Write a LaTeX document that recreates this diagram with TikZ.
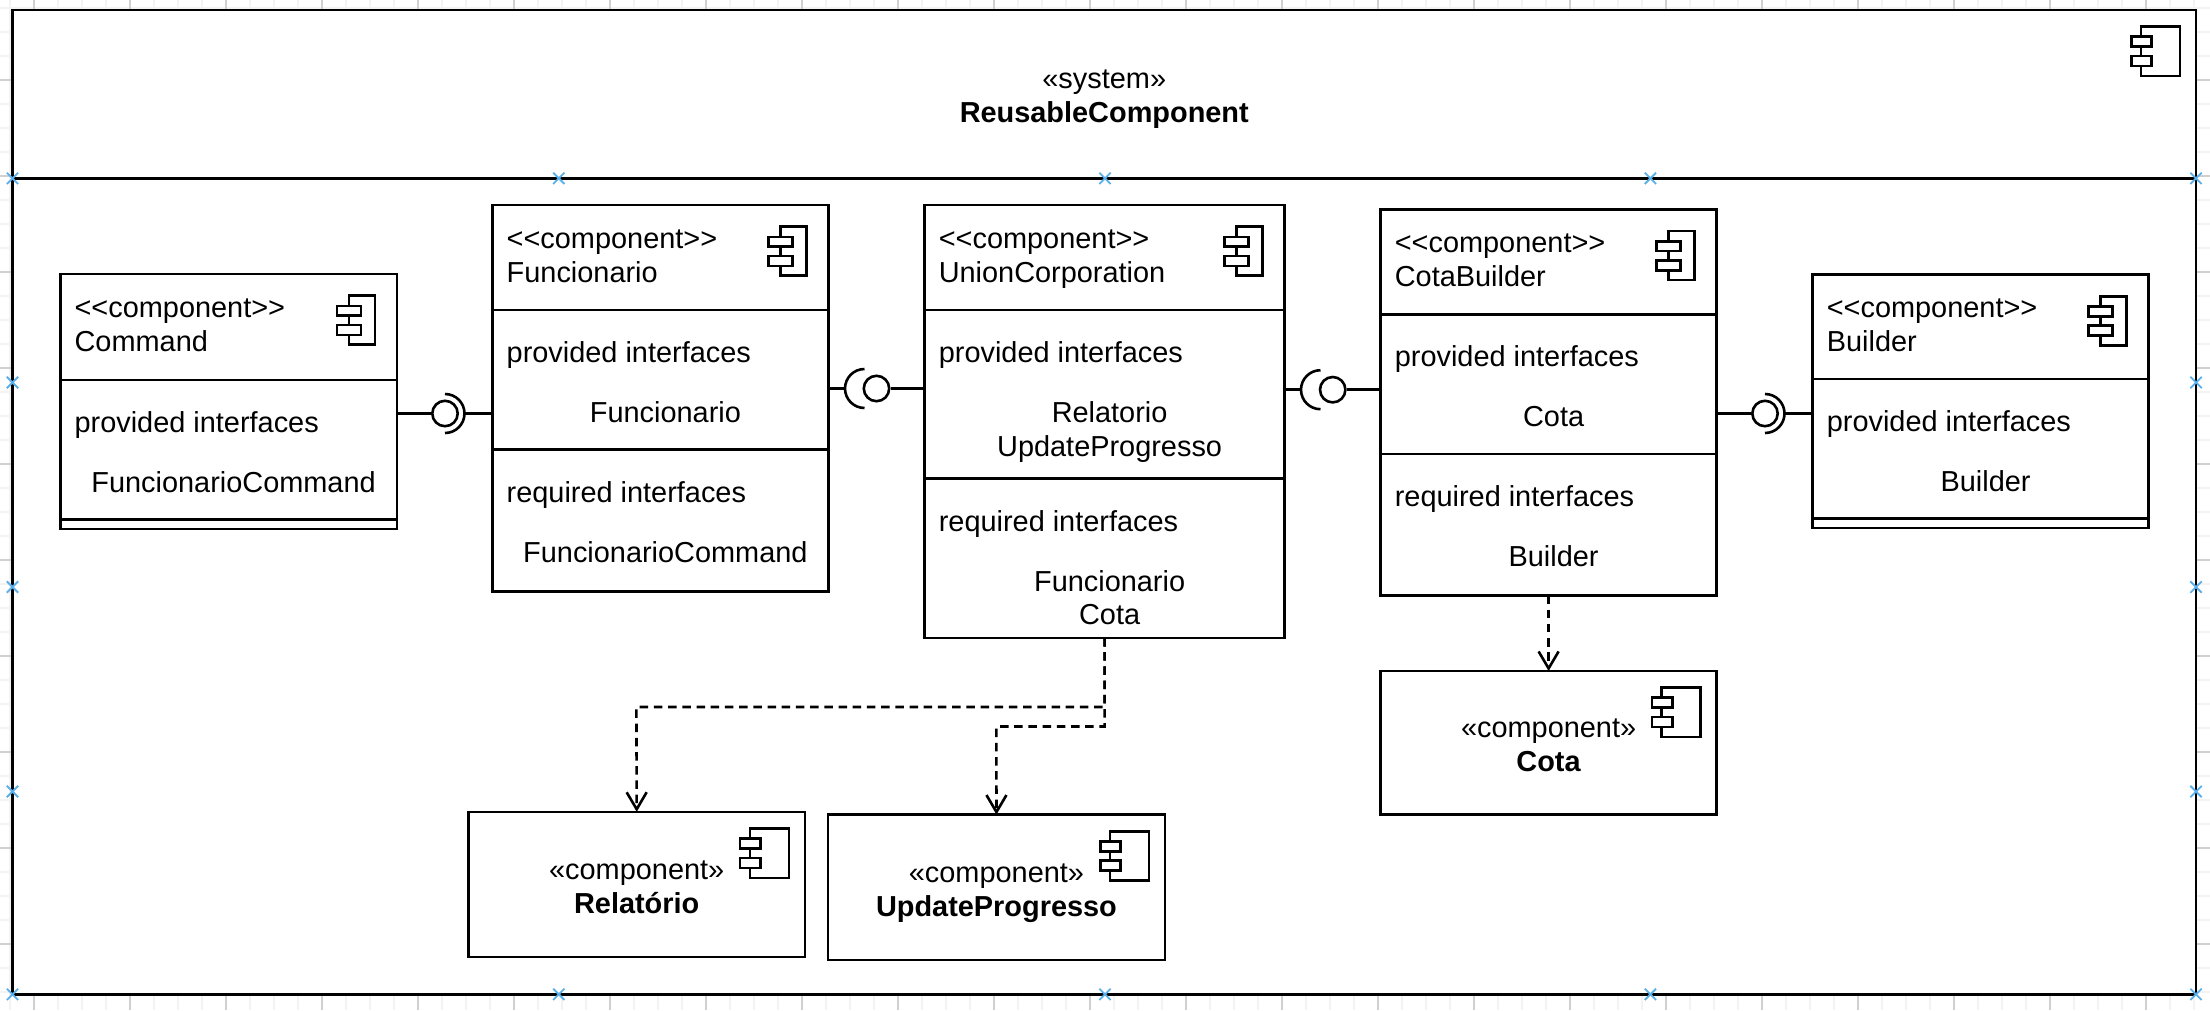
\documentclass[tikz,border=0pt]{standalone}
\usepackage{fontspec}
\setmainfont{Liberation Sans}
\usetikzlibrary{arrows.meta,shapes.misc,positioning}
\definecolor{gridminor}{HTML}{F3F3F3}
\definecolor{gridmajor}{HTML}{D0D0D0}
\definecolor{markblue}{HTML}{5AB0EA}
\tikzset{
compbox/.style = {draw, fill=white, rectangle, inner sep=0pt, outer sep=0pt},
txtl/.style = {anchor=base west, align=left, inner sep=0pt},
txtc/.style = {anchor=base, align=center, inner sep=0pt},
ball/.style = {draw, fill=white, circle, inner sep=0pt, minimum size=25.4pt},
dep/.style = {->, dash pattern=on 8.5pt off 5.7pt},
guidex/.style = {draw=markblue, cross out, line width=1.8pt, inner sep=0pt, minimum size=9.5pt},
smallicon/.pic = {
  \draw (-48,21.7) rectangle (-22,70.7);
  \draw[fill=white] (-60,32) rectangle (-36,41.7);
  \draw[fill=white] (-60,51) rectangle (-36,61);
},
bigicon/.pic = {
  \draw (-55,16.7) rectangle (-16,66);
  \draw[fill=white] (-64.7,26.7) rectangle (-44.3,36.7);
  \draw[fill=white] (-64.7,46) rectangle (-44.3,56);
},
socketr/.pic = {
  \draw (0pt,19.5pt) arc[start angle=90, end angle=-90, radius=19.5pt];
  \coordinate (-tip) at (19.5pt,0pt);
},
socketl/.pic = {
  \draw (0pt,19.5pt) arc[start angle=90, end angle=270, radius=19.5pt];
  \coordinate (-tip) at (-19.5pt,0pt);
}
}

\begin{document}
\begin{tikzpicture}[x=1pt, y=-1pt, line width=2.6pt, font=\fontsize{28.9}{33.8}\selectfont,
  >={Straight Barb[length=17pt, width=20pt, line width=2.6pt]}]
  \useasboundingbox (0,0) rectangle (2210,1010);
  \foreach \x in {10,34,...,2210} \draw[gridminor, line width=1.4pt] (\x,0) -- (\x,1010);
  \foreach \y in {8,32,...,1010} \draw[gridminor, line width=1.4pt] (0,\y) -- (2210,\y);
  \foreach \x in {34,130,...,2210} \draw[gridmajor, line width=1.4pt] (\x,0) -- (\x,1010);
  \foreach \y in {80,176,...,1010} \draw[gridmajor, line width=1.4pt] (0,\y) -- (2210,\y);

  \node [compbox, anchor=north west, minimum width=2183.5pt, minimum height=168.3pt] (syshead) at (12.5,10) {};
  \node [compbox, below=0pt of syshead, minimum width=2183.5pt, minimum height=816pt] (sysbody) {};
  \node [below=112.5pt of syshead.north, txtc]                    (systxt)   {«system»\\\textbf{ReusableComponent}};
  \pic at (syshead.north east) {bigicon};

  \node [compbox, anchor=north west, minimum width=336.6pt, minimum height=106pt] (cmdhead) at (60.3,274) {};
  \node [compbox, below=0pt of cmdhead, minimum width=336.6pt, minimum height=139.5pt] (cmdprov) {};
  \node [compbox, below=0pt of cmdprov, minimum width=336.6pt, minimum height=9.5pt]   (cmdend)  {};
  \node [below right=77pt and 13pt of cmdhead.north west, txtl]   (cmdtxt)   {<{}<component>{}>\\Command};
  \node [below right=52.5pt and 13pt of cmdprov.north west, txtl] (cmdptxt)  {provided interfaces};
  \node [below=112.5pt of cmdprov.north, xshift=5pt, txtc]        (cmdpname) {FuncionarioCommand};
  \pic at (cmdhead.north east) {smallicon};

  \node [compbox, anchor=north west, minimum width=336pt, minimum height=105pt] (funhead) at (492.4,205) {};
  \node [compbox, below=0pt of funhead, minimum width=336pt, minimum height=139.7pt] (funprov) {};
  \node [compbox, below=0pt of funprov, minimum width=336pt, minimum height=142pt]   (funreq)  {};
  \node [below right=77pt and 13pt of funhead.north west, txtl]   (funtxt)   {<{}<component>{}>\\Funcionario};
  \node [below right=52.5pt and 13pt of funprov.north west, txtl] (funptxt)  {provided interfaces};
  \node [below=112.5pt of funprov.north, xshift=5pt, txtc]        (funpname) {Funcionario};
  \node [below right=52.5pt and 13pt of funreq.north west, txtl]  (funrtxt)  {required interfaces};
  \node [below=112.5pt of funreq.north, xshift=5pt, txtc]         (funrname) {FuncionarioCommand};
  \pic at (funhead.north east) {smallicon};

  \node [compbox, anchor=north west, minimum width=360.2pt, minimum height=105pt] (unihead) at (924.5,205) {};
  \node [compbox, below=0pt of unihead, minimum width=360.2pt, minimum height=168.5pt] (uniprov) {};
  \node [compbox, below=0pt of uniprov, minimum width=360.2pt, minimum height=159.5pt] (unireq)  {};
  \node [below right=77pt and 13pt of unihead.north west, txtl]   (unitxt)   {<{}<component>{}>\\UnionCorporation};
  \node [below right=52.5pt and 13pt of uniprov.north west, txtl] (uniptxt)  {provided interfaces};
  \node [below=146.3pt of uniprov.north, xshift=5pt, txtc]        (unipname) {Relatorio\\UpdateProgresso};
  \node [below right=52.5pt and 13pt of unireq.north west, txtl]  (unirtxt)  {required interfaces};
  \node [below=146.3pt of unireq.north, xshift=5pt, txtc]         (unirname) {Funcionario\\Cota};
  \pic at (unihead.north east) {smallicon};

  \node [compbox, anchor=north west, minimum width=336.2pt, minimum height=105pt] (cobhead) at (1380.5,209.3) {};
  \node [compbox, below=0pt of cobhead, minimum width=336.2pt, minimum height=139.5pt] (cobprov) {};
  \node [compbox, below=0pt of cobprov, minimum width=336.2pt, minimum height=141.7pt] (cobreq)  {};
  \node [below right=77pt and 13pt of cobhead.north west, txtl]   (cobtxt)   {<{}<component>{}>\\CotaBuilder};
  \node [below right=52.5pt and 13pt of cobprov.north west, txtl] (cobptxt)  {provided interfaces};
  \node [below=112.5pt of cobprov.north, xshift=5pt, txtc]        (cobpname) {Cota};
  \node [below right=52.5pt and 13pt of cobreq.north west, txtl]  (cobrtxt)  {required interfaces};
  \node [below=112.5pt of cobreq.north, xshift=5pt, txtc]         (cobrname) {Builder};
  \pic at (cobhead.north east) {smallicon};

  \node [compbox, anchor=north west, minimum width=336.1pt, minimum height=104.5pt] (bldhead) at (1812.5,274.5) {};
  \node [compbox, below=0pt of bldhead, minimum width=336.1pt, minimum height=139.5pt] (bldprov) {};
  \node [compbox, below=0pt of bldprov, minimum width=336.1pt, minimum height=9.5pt]   (bldend)  {};
  \node [below right=77pt and 13pt of bldhead.north west, txtl]   (bldtxt)   {<{}<component>{}>\\Builder};
  \node [below right=52.5pt and 13pt of bldprov.north west, txtl] (bldptxt)  {provided interfaces};
  \node [below=112.5pt of bldprov.north, xshift=5pt, txtc]        (bldpname) {Builder};
  \pic at (bldhead.north east) {smallicon};

  \node [compbox, anchor=north west, minimum width=336.2pt, minimum height=143.6pt] (cota) at (1380.5,671) {};
  \node [below=100pt of cota.north, txtc]                         (cotatxt)  {«component»\\\textbf{Cota}};
  \pic at (cota.north east) {bigicon};

  \node [compbox, anchor=north west, minimum width=336.2pt, minimum height=145.2pt] (rel) at (468.6,811.8) {};
  \node [below=101.5pt of rel.north, txtc]                        (reltxt)   {«component»\\\textbf{Relatório}};
  \pic at (rel.north east) {bigicon};

  \node [compbox, anchor=north west, minimum width=336.9pt, minimum height=145.2pt] (upd) at (828,814.6) {};
  \node [below=101.5pt of upd.north, txtc]                        (updtxt)   {«component»\\\textbf{UpdateProgresso}};
  \pic at (upd.north east) {bigicon};

  \node [ball] (ballcmd) at (445,413.5) {};
  \pic (sockcmd) at (445,413.5) {socketr};
  \draw (cmdprov.east |- ballcmd) -- (ballcmd);
  \draw (sockcmd-tip) -- (funprov.west |- sockcmd-tip);

  \node [ball] (ballfun) at (876.5,388.5) {};
  \pic (sockfun) at (864.5,388.5) {socketl};
  \draw (funprov.east |- sockfun-tip) -- (sockfun-tip);
  \draw (ballfun) -- (uniprov.west |- ballfun);

  \node [ball] (ballcot) at (1332.7,389.7) {};
  \pic (sockcot) at (1320.5,389.7) {socketl};
  \draw ([xshift=-2pt]uniprov.east |- sockcot-tip) -- (sockcot-tip);
  \draw (ballcot) -- (cobprov.west |- ballcot);

  \node [ball] (ballbld) at (1765,413.5) {};
  \pic (sockbld) at (1765,413.5) {socketr};
  \draw (cobprov.east |- ballbld) -- (ballbld);
  \draw (sockbld-tip) -- (bldprov.west |- sockbld-tip);

  \coordinate (bendrel) at (636.4,707);
  \coordinate (bendupd) at (996.4,726.5);
  \draw [dep] (unireq.south) |- (bendrel) -- (rel.north);
  \draw [dep] (unireq.south) |- (bendupd) -- (upd.north);
  \draw [dep] (cobreq.south) -- (cota.north);

  \foreach \x/\n in {12.5/a,558.8/b,1105/c,1650.4/d,2196/e}
    \foreach \y/\m in {178.3/t,994.3/u}
      \node [guidex] (mk\n\m) at (\x,\y) {};
  \foreach \x/\n in {12.5/a,2196/e}
    \foreach \y/\m in {382.5/p,587/q,791.5/r}
      \node [guidex] (mk\n\m) at (\x,\y) {};
\end{tikzpicture}
\end{document}
